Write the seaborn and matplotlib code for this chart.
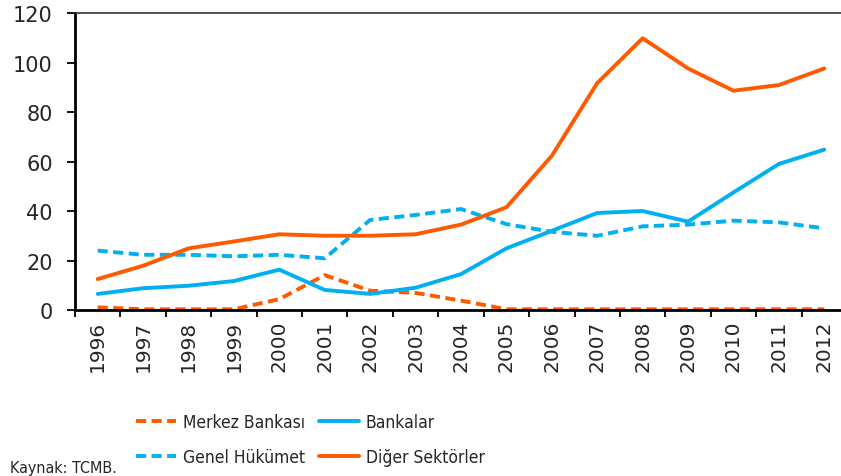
import numpy as np
import pandas as pd
import matplotlib
matplotlib.use("Agg")
import matplotlib.pyplot as plt
import seaborn as sns
from matplotlib.ticker import FixedLocator, NullFormatter

years = [str(y) for y in range(1996, 2013)]
merkez = [1.1, 0.3, 0.3, 0.3, 4.4, 14.1, 7.8, 6.9, 3.8, 0.3, 0.3, 0.3, 0.3, 0.3, 0.3, 0.3, 0.3]
bankalar = [6.5, 8.8, 9.8, 11.7, 16.3, 8.1, 6.5, 9.0, 14.5, 24.9, 32.0, 39.2, 40.0, 35.7, 47.5, 59.0, 64.8]
genel = [24.0, 22.3, 22.3, 21.7, 22.3, 20.9, 36.4, 38.4, 40.8, 34.7, 31.6, 30.0, 33.8, 34.5, 36.1, 35.4, 33.0]
diger = [12.5, 17.9, 24.9, 27.7, 30.6, 30.0, 30.0, 30.6, 34.5, 41.5, 62.3, 91.7, 109.8, 97.6, 88.6, 90.9, 97.6]

series = ["Merkez Bankası", "Bankalar", "Genel Hükümet", "Diğer Sektörler"]
orange = "#FF5A00"
blue = "#00B0F0"
palette = {"Merkez Bankası": orange, "Bankalar": blue,
           "Genel Hükümet": blue, "Diğer Sektörler": orange}
dashes = {"Merkez Bankası": (2.6, 1.4), "Bankalar": "",
          "Genel Hükümet": (2.6, 1.4), "Diğer Sektörler": ""}

df = pd.DataFrame({
    "pos": list(range(len(years))) * 4,
    "value": merkez + bankalar + genel + diger,
    "series": np.repeat(series, len(years)),
})

sns.set_style("white")
plt.rcParams["font.family"] = ["DejaVu Sans"]

fig = plt.figure(figsize=(8.41, 4.77), dpi=100)
ax = fig.add_axes([75 / 841, 1 - 311 / 477, (847 - 75) / 841, (311 - 14) / 477])

sns.lineplot(data=df, x="pos", y="value", hue="series", style="series",
             palette=palette, dashes=dashes, linewidth=2.8, ax=ax, legend=False)

ax.set_xlim(-0.5, len(years) - 0.5)
ax.set_ylim(0, 120)
ax.set_yticks(range(0, 121, 20))
ax.set_xlabel("")
ax.set_ylabel("")

ax.xaxis.set_major_locator(FixedLocator(np.arange(-0.5, len(years), 1)))
ax.xaxis.set_major_formatter(NullFormatter())
ax.xaxis.set_minor_locator(FixedLocator(range(len(years))))
ax.set_xticklabels(years, minor=True, rotation=90)
ax.tick_params(axis="x", which="major", direction="out", length=5, width=1.3, color="black", bottom=True)
ax.tick_params(axis="x", which="minor", length=0, labelsize=14.5, pad=7)
ax.tick_params(axis="y", direction="out", length=6, width=1.3, color="black", left=True, labelsize=15, pad=10)

for s in ["left", "bottom"]:
    ax.spines[s].set_color("black")
    ax.spines[s].set_linewidth(2)
ax.spines["top"].set_color("#333333")
ax.spines["top"].set_linewidth(1.2)
ax.spines["right"].set_visible(False)

handles = [plt.Line2D([], [], color=palette[s], lw=2.8,
                      dashes=dashes[s] if dashes[s] else (None, None)) for s in series]
order = [0, 2, 1, 3]
fig.legend([handles[i] for i in order], [series[i] for i in order],
           ncol=2, loc="upper left", bbox_to_anchor=(136 / 841, 1 - 414 / 477),
           frameon=False, borderpad=0, borderaxespad=0,
           prop={"family": "DejaVu Sans", "stretch": "condensed", "size": 12.5},
           handlelength=2.3, columnspacing=0.8, labelspacing=1.0, handletextpad=0.4)

fig.text(10 / 841, 0.002, "Kaynak: TCMB.", fontsize=11.5, stretch="condensed",
         ha="left", va="bottom")

fig.savefig("out.png", dpi=100)
